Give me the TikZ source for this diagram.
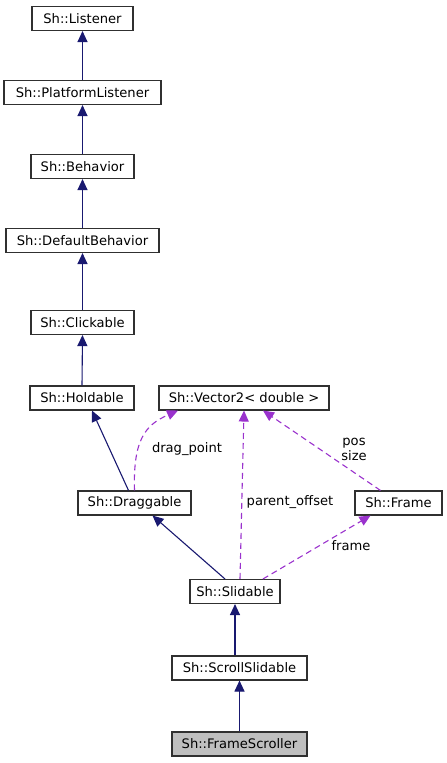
\documentclass[tikz,border=0pt]{standalone}
\usepackage{fontspec}
\setmainfont{DejaVu Sans}
\usetikzlibrary{arrows.meta}
\definecolor{navy}{HTML}{191970}
\definecolor{orchid}{HTML}{9A32CD}
\definecolor{bord}{HTML}{303030}
\tikzset{
  cls/.style={draw=bord, line width=1.1pt, fill=white, inner sep=0pt, minimum height=24pt, font=\fontsize{13.1}{15}\selectfont},
  inh/.style={draw=navy, line width=1.1pt, -{Triangle[length=11pt,width=10pt]}, navy},
  use/.style={draw=orchid, line width=1.1pt, dash pattern=on 6pt off 4pt, -{Triangle[length=11pt,width=10pt]}, orchid},
  lbl/.style={font=\fontsize{13.1}{15}\selectfont, inner sep=0pt, align=center}
}
\begin{document}
\begin{tikzpicture}[x=1pt,y=-1pt]
\useasboundingbox (0,0) rectangle (447,763);
\node[cls, minimum width=101pt] (listener) at (82.5,18.5) {Sh::Listener};
\node[cls, minimum width=157pt] (plat) at (82.5,92.5) {Sh::PlatformListener};
\node[cls, minimum width=103pt] (beh) at (82.5,166.5) {Sh::Behavior};
\node[cls, minimum width=153pt] (defb) at (82.5,240.5) {Sh::DefaultBehavior};
\node[cls, minimum width=103pt] (click) at (82.5,322.5) {Sh::Clickable};
\node[cls, minimum width=104pt] (hold) at (82,398) {Sh::Holdable};
\node[cls, minimum width=170pt] (vec) at (244,398) {Sh::Vector2< double >};
\node[cls, minimum width=113pt] (drag) at (134.5,503) {Sh::Draggable};
\node[cls, minimum width=87pt] (frame) at (398.5,503) {Sh::Frame};
\node[cls, minimum width=90pt] (slid) at (235,591.5) {Sh::Slidable};
\node[cls, minimum width=135pt] (scroll) at (239.5,668) {Sh::ScrollSlidable};
\node[cls, minimum width=135pt, fill={rgb,255:red,191;green,191;blue,191}] (fs) at (239.5,744) {Sh::FrameScroller};

\draw[inh] (plat.north) -- (listener.south);
\draw[inh] (beh.north) -- (plat.south);
\draw[inh] (defb.north) -- (beh.south);
\draw[inh] (click.north) -- (defb.south);
\draw[inh] (hold.north) -- (click.south);
\draw[inh] ([xshift=-6pt]drag.north) -- ([xshift=10pt]hold.south);
\draw[inh] ([xshift=-10pt]slid.north) -- ([xshift=18pt]drag.south);
\draw[inh] (scroll.north -| slid.south) -- (slid.south);
\draw[inh] (fs.north) -- (scroll.south);

\draw[use] (drag.north) .. controls (133,440) and (145,425) .. ([xshift=-66pt]vec.south);
\draw[use] ([xshift=5pt]slid.north) -- (vec.south);
\draw[use] ([xshift=-18pt]frame.north) -- ([xshift=19pt]vec.south);
\draw[use] ([xshift=28pt]slid.north) -- ([xshift=-28pt]frame.south);

\node[lbl] (l1) at (187,449) {drag\_point};
\node[lbl] (l2) at (290,502) {parent\_offset};
\node[lbl] (l3) at (354,449) {pos\\size};
\node[lbl] (l4) at (351,546) {frame};
\end{tikzpicture}
\end{document}
